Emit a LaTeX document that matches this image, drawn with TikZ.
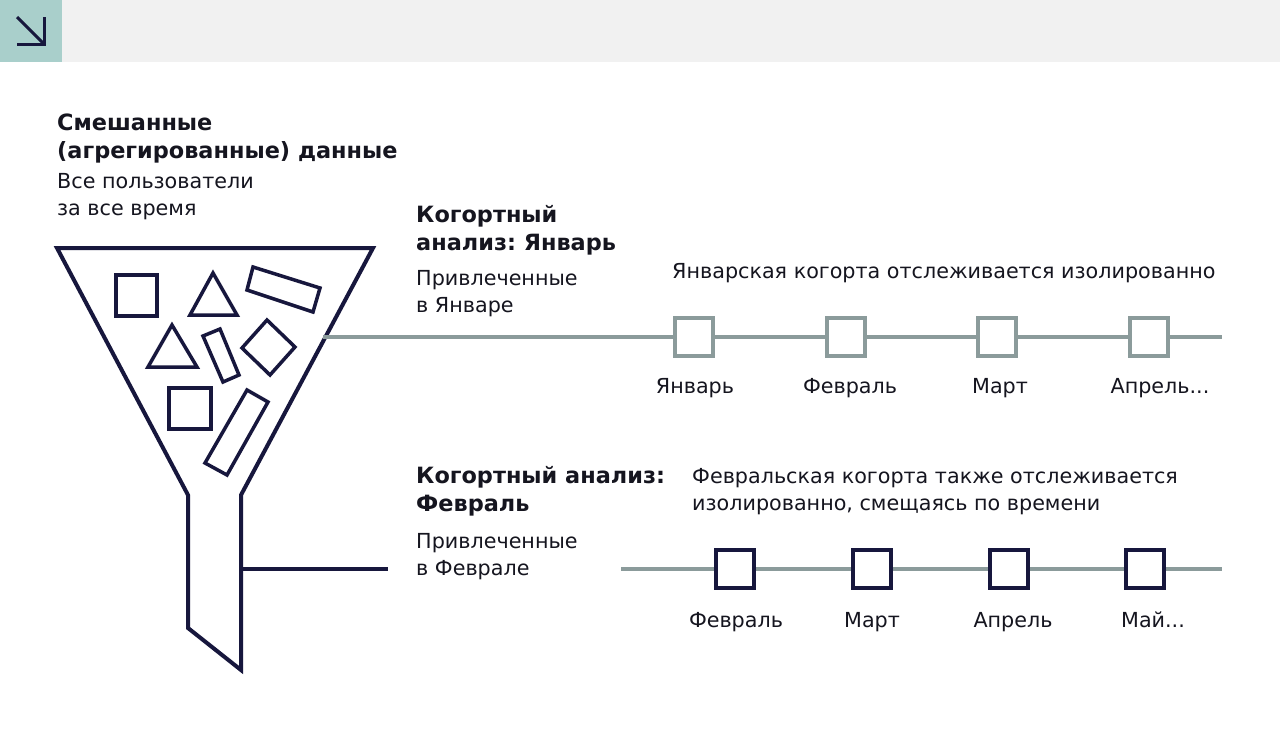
\documentclass[tikz,border=0pt]{standalone}
\usepackage{fontspec}
\setmainfont{DejaVu Sans}
\usepackage{tikz}
\usetikzlibrary{positioning}
\frenchspacing

\definecolor{navy}{HTML}{17173D}
\definecolor{ink}{HTML}{15151F}
\definecolor{teal}{HTML}{A9CFCB}
\definecolor{topbar}{HTML}{F1F1F1}
\definecolor{slate}{HTML}{8B9B9B}
\newcommand{\moremonths}{...}

\tikzset{
  funnelline/.style={draw=navy, line width=4pt, line join=miter},
  cohortline/.style={draw=slate, line width=4pt},
  janbox/.style={draw=slate, fill=white, line width=4pt, minimum size=38pt, inner sep=0pt},
  febbox/.style={draw=navy, fill=white, line width=4pt, minimum size=38pt, inner sep=0pt},
  headtext/.style={anchor=base west, inner sep=0pt, align=left, text=ink,
    font=\fontsize{22.4}{28}\selectfont\bfseries},
  bodytext/.style={anchor=base west, inner sep=0pt, align=left, text=ink,
    font=\fontsize{20.7}{27}\selectfont},
  monthlabel/.style={anchor=base, inner sep=0pt, text=ink,
    font=\fontsize{20.7}{27}\selectfont},
}

\begin{document}
\begin{tikzpicture}[x=1pt, y=-1pt]
\useasboundingbox (0,0) rectangle (1280,734);
\fill[white] (0,0) rectangle (1280,734);
\fill[topbar] (0,0) rectangle (1280,62);
\fill[teal] (0,0) rectangle (62,62);
\draw[navy, line width=3pt] (17,17) -- (44,44);
\draw[navy, line width=3pt] (17,44) -- (44,44) -- (44,17);

% funnel
\draw[funnelline] (57,248) -- (373,248) -- (241,495) -- (241,670)
  -- (188,628) -- (188,495) -- cycle;
\coordinate (jstart) at (323,337);
\coordinate (fstem) at (241,569);

% contents
\draw[funnelline, line width=3.5pt] (116,275) rectangle (157,316);
\draw[funnelline, line width=3.5pt] (169,388) rectangle (211,429);
\draw[funnelline, line width=3.5pt] (213,273) -- (237,315) -- (190,315) -- cycle;
\draw[funnelline, line width=3.5pt] (172,325) -- (197,367) -- (148,367) -- cycle;
\draw[funnelline, line width=3.5pt] (253,267) -- (320,288) -- (313,312) -- (247,290) -- cycle;
\draw[funnelline, line width=3.5pt] (203,336) -- (220,329) -- (239,375) -- (223,382) -- cycle;
\draw[funnelline, line width=3.5pt] (267,320) -- (295,347) -- (270,375) -- (242,348) -- cycle;
\draw[funnelline, line width=3.5pt] (247,390) -- (268,402) -- (227,475) -- (205,463) -- cycle;

% texts (placed at the baseline of the last line)
\node[headtext] (mixed) at (57,158) {Смешанные\\(агрегированные) данные};
\node[bodytext] (allusers) at (57,215) {Все пользователи\\за все время};
\node[headtext] (janhead) at (416,250) {Когортный\\анализ: Январь};
\node[bodytext] (janbody) at (416,312) {Привлеченные\\в Январе};
\node[bodytext] (jannote) at (672,278) {Январская когорта отслеживается изолированно};
\node[headtext] (febhead) at (416,511) {Когортный анализ:\\Февраль};
\node[bodytext] (febbody) at (416,575) {Привлеченные\\в Феврале};
\node[bodytext] (febnote) at (692,510) {Февральская когорта также отслеживается\\изолированно, смещаясь по времени};

% january cohort
\coordinate (jend) at (1222,337);
\foreach \n/\x/\lx/\m in {1/694/695/Январь, 2/846/850/Февраль, 3/997/1000/Март, 4/1149/1160/Апрель\moremonths} {
  \node[janbox] (j\n) at (\x,337) {};
  \node[monthlabel] (jl\n) at (\lx,393) {\m};
}
\draw[cohortline] (jstart) -- (j1) -- (j2) -- (j3) -- (j4) -- (jend);

% february cohort
\coordinate (fend) at (388,569);
\coordinate (fline) at (621,569);
\coordinate (fend2) at (1222,569);
\draw[funnelline] (fstem) -- (fend);
\foreach \n/\x/\lx/\m in {1/735/736/Февраль, 2/872/872/Март, 3/1009/1013/Апрель, 4/1145/1153/Май\moremonths} {
  \node[febbox] (f\n) at (\x,569) {};
  \node[monthlabel] (fl\n) at (\lx,627) {\m};
}
\draw[cohortline] (fline) -- (f1) -- (f2) -- (f3) -- (f4) -- (fend2);
\end{tikzpicture}
\end{document}
